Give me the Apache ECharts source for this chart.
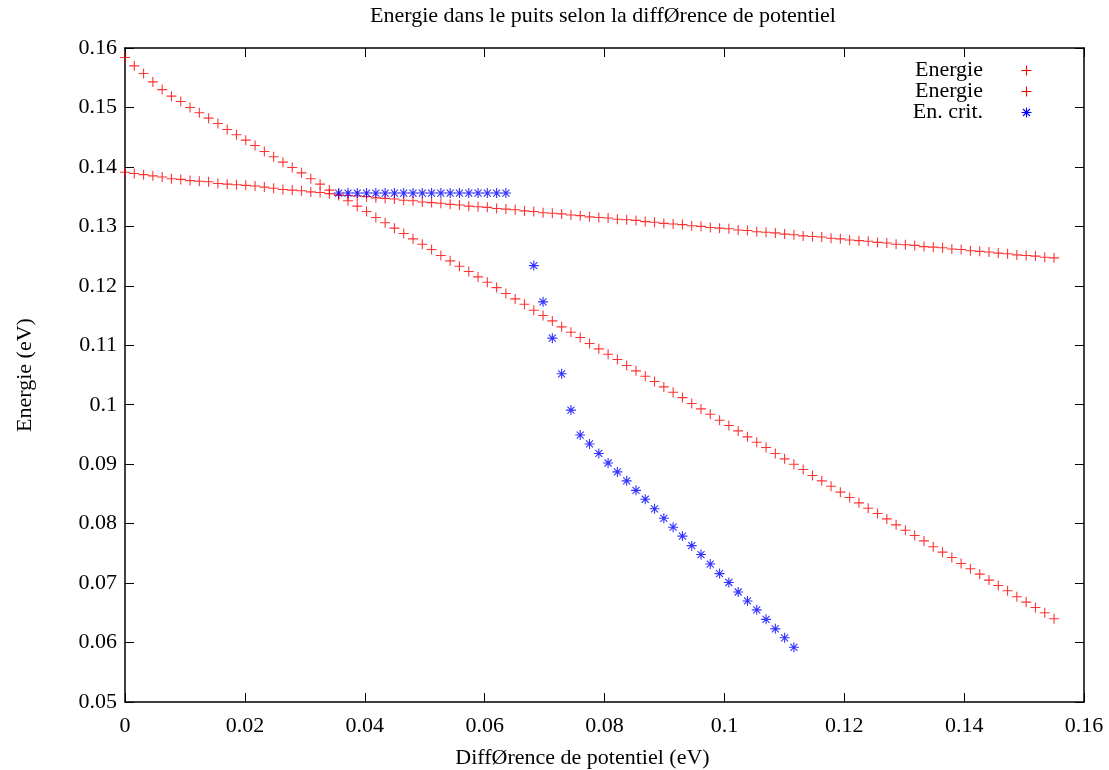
<!DOCTYPE html>
<html>
<head>
<meta charset="utf-8">
<script src="https://cdn.jsdelivr.net/npm/echarts@6/dist/echarts.min.js"></script>
<style>
  html, body { margin: 0; padding: 0; background: #fff; }
  #chart { width: 1109px; height: 770px; }
</style>
</head>
<body>
<div id="chart"></div>
<script>
// Potential difference grid (eV)
const potentialDiff = [
  0, 0.00155, 0.0031, 0.00465, 0.0062, 0.00775, 0.0093, 0.01085, 0.0124, 0.01395,
  0.0155, 0.01705, 0.0186, 0.02015, 0.0217, 0.02325, 0.0248, 0.02635, 0.0279, 0.02945,
  0.031, 0.03255, 0.0341, 0.03565, 0.0372, 0.03875, 0.0403, 0.04185, 0.0434, 0.04495,
  0.0465, 0.04805, 0.0496, 0.05115, 0.0527, 0.05425, 0.0558, 0.05735, 0.0589, 0.06045,
  0.062, 0.06355, 0.0651, 0.06665, 0.0682, 0.06975, 0.0713, 0.07285, 0.0744, 0.07595,
  0.0775, 0.07905, 0.0806, 0.08215, 0.0837, 0.08525, 0.0868, 0.08835, 0.0899, 0.09145,
  0.093, 0.09455, 0.0961, 0.09765, 0.0992, 0.10075, 0.1023, 0.10385, 0.1054, 0.10695,
  0.1085, 0.11005, 0.1116, 0.11315, 0.1147, 0.11625, 0.1178, 0.11935, 0.1209, 0.12245,
  0.124, 0.12555, 0.1271, 0.12865, 0.1302, 0.13175, 0.1333, 0.13485, 0.1364, 0.13795,
  0.1395, 0.14105, 0.1426, 0.14415, 0.1457, 0.14725, 0.1488, 0.15035, 0.1519, 0.15345,
  0.155
];

// Level that falls fastest with the potential difference (eV)
const energieA = [
  0.1584, 0.1570, 0.1557, 0.1543, 0.1530, 0.1519, 0.1510, 0.1500, 0.1491, 0.1482,
  0.1473, 0.1463, 0.1454, 0.1445, 0.1436, 0.1426, 0.1417, 0.1408, 0.1399, 0.1390,
  0.1380, 0.1371, 0.1361, 0.1352, 0.1343, 0.1334, 0.1325, 0.1315, 0.1306, 0.1297,
  0.1288, 0.1279, 0.1270, 0.1261, 0.1251, 0.1242, 0.1233, 0.1224, 0.1215, 0.1206,
  0.1197, 0.1187, 0.1178, 0.1169, 0.1159, 0.1150, 0.1141, 0.1131, 0.1122, 0.1113,
  0.1103, 0.1094, 0.1085, 0.1076, 0.1066, 0.1057, 0.1048, 0.1039, 0.1030, 0.1021,
  0.1012, 0.1002, 0.0993, 0.0984, 0.0974, 0.0965, 0.0956, 0.0946, 0.0937, 0.0928,
  0.0918, 0.0909, 0.0900, 0.0891, 0.0881, 0.0872, 0.0863, 0.0853, 0.0844, 0.0835,
  0.0826, 0.0817, 0.0808, 0.0798, 0.0789, 0.0780, 0.0771, 0.0761, 0.0752, 0.0743,
  0.0733, 0.0724, 0.0715, 0.0705, 0.0696, 0.0687, 0.0677, 0.0668, 0.0659, 0.0650,
  0.0640
];

// Level that decreases slowly (eV)
const energieB = [
  0.1391, 0.1389, 0.1387, 0.1385, 0.1383, 0.1380, 0.1379, 0.1377, 0.1376, 0.1375,
  0.1372, 0.1371, 0.1370, 0.1369, 0.1368, 0.1366, 0.1364, 0.1362, 0.1361, 0.1360,
  0.1358, 0.1357, 0.1355, 0.1354, 0.1352, 0.1351, 0.1350, 0.1348, 0.1347, 0.1346,
  0.1344, 0.1343, 0.1341, 0.1340, 0.1339, 0.1337, 0.1336, 0.1334, 0.1333, 0.1332,
  0.1330, 0.1329, 0.1328, 0.1326, 0.1325, 0.1323, 0.1322, 0.1321, 0.1319, 0.1318,
  0.1316, 0.1315, 0.1314, 0.1312, 0.1311, 0.1310, 0.1308, 0.1307, 0.1305, 0.1304,
  0.1303, 0.1301, 0.1300, 0.1298, 0.1297, 0.1296, 0.1294, 0.1293, 0.1291, 0.1290,
  0.1289, 0.1287, 0.1286, 0.1284, 0.1283, 0.1282, 0.1280, 0.1279, 0.1277, 0.1276,
  0.1275, 0.1273, 0.1272, 0.1270, 0.1269, 0.1268, 0.1266, 0.1265, 0.1264, 0.1262,
  0.1261, 0.1259, 0.1258, 0.1257, 0.1255, 0.1254, 0.1252, 0.1251, 0.1250, 0.1248,
  0.1247
];

// Critical energies: potential difference (eV) and energy (eV)
const critPotential = [
  0.03565, 0.0372, 0.03875, 0.0403, 0.04185, 0.0434, 0.04495, 0.0465, 0.04805, 0.0496,
  0.05115, 0.0527, 0.05425, 0.0558, 0.05735, 0.0589, 0.06045, 0.062, 0.06355,
  0.0682, 0.06975, 0.0713, 0.07285, 0.0744, 0.07595, 0.0775, 0.07905, 0.0806, 0.08215,
  0.0837, 0.08525, 0.0868, 0.08835, 0.0899, 0.09145, 0.093, 0.09455, 0.0961, 0.09765,
  0.0992, 0.10075, 0.1023, 0.10385, 0.1054, 0.10695, 0.1085, 0.11005, 0.1116
];
const critEnergy = [
  0.1356, 0.1356, 0.1356, 0.1356, 0.1356, 0.1356, 0.1356, 0.1356, 0.1356, 0.1356,
  0.1356, 0.1356, 0.1356, 0.1356, 0.1356, 0.1356, 0.1356, 0.1356, 0.1356,
  0.1234, 0.1173, 0.1112, 0.1052, 0.0991, 0.0949, 0.0934, 0.0918, 0.0902, 0.0887,
  0.0872, 0.0856, 0.0841, 0.0825, 0.0809, 0.0794, 0.0779, 0.0763, 0.0748, 0.0732,
  0.0716, 0.0701, 0.0685, 0.0670, 0.0655, 0.0639, 0.0623, 0.0608, 0.0592
];

const seriesNames = ['Energie', 'Energie', 'En. crit.'];
const xTitle = 'DiffØrence de potentiel (eV)';
const yTitle = 'Energie (eV)';
const chartTitle = 'Energie dans le puits selon la diffØrence de potentiel';

const FONT = 'Liberation Serif';
const FS = 22;
const RED = '#ff0000';
const BLUE = '#0000ff';
const PLUS = 'path://M0,5L10,5M5,0L5,10';
const STAR = 'path://M0,5L10,5M5,0L5,10M1.5,1.5L8.5,8.5M8.5,1.5L1.5,8.5';

const pairs = (xs, ys) => xs.map((x, i) => [x, ys[i]]);
const fmt = v => String(parseFloat(v.toFixed(2)));

function axisBase(pos, showLabel, extra) {
  return Object.assign({
    type: 'value',
    position: pos,
    axisLine: { show: true, onZero: false, lineStyle: { color: '#000', width: 1.5 } },
    axisTick: { show: true, inside: true, length: 9, lineStyle: { color: '#000', width: 1 } },
    splitLine: { show: false },
    axisLabel: { show: showLabel, color: '#000', fontFamily: FONT, fontSize: FS, formatter: fmt }
  }, extra);
}

function markerSeries(name, data, symbol, color, size) {
  return {
    name: name,
    type: 'scatter',
    data: data,
    symbol: symbol,
    symbolSize: size,
    itemStyle: { color: 'transparent', borderColor: color, borderWidth: 1.1 },
    emphasis: { disabled: true },
    silent: true,
    xAxisIndex: 0,
    yAxisIndex: 0
  };
}

// Legend box, top right inside the frame: label on the left, marker on the right
function legendEntry(label, y, color, star) {
  const cx = 1026.5, r = 5;
  const els = [
    { type: 'text', x: 983, y: y, style: { text: label, fill: '#000', font: FS + 'px "' + FONT + '"', align: 'right', verticalAlign: 'middle' } },
    { type: 'line', shape: { x1: cx - r, y1: y, x2: cx + r, y2: y }, style: { stroke: color, lineWidth: 1.1 } },
    { type: 'line', shape: { x1: cx, y1: y - r, x2: cx, y2: y + r }, style: { stroke: color, lineWidth: 1.1 } }
  ];
  if (star) {
    const d = 3.5;
    els.push({ type: 'line', shape: { x1: cx - d, y1: y - d, x2: cx + d, y2: y + d }, style: { stroke: color, lineWidth: 1.1 } });
    els.push({ type: 'line', shape: { x1: cx + d, y1: y - d, x2: cx - d, y2: y + d }, style: { stroke: color, lineWidth: 1.1 } });
  }
  return els;
}

const chart = echarts.init(document.getElementById('chart'), null, { renderer: 'canvas' });
chart.setOption({
  animation: false,
  backgroundColor: '#fff',
  grid: { left: 125, right: 25, top: 48, bottom: 68, containLabel: false, outerBoundsMode: 'none' },
  xAxis: [
    axisBase('bottom', true, {
      min: 0, max: 0.16, interval: 0.02,
      name: xTitle, nameLocation: 'middle', nameGap: 45,
      nameTextStyle: { fontFamily: FONT, fontSize: FS, color: '#000', padding: [0, 44, 0, 0] },
      axisLabel: { show: true, color: '#000', fontFamily: FONT, fontSize: FS, margin: 13, formatter: fmt }
    }),
    axisBase('top', false, { min: 0, max: 0.16, interval: 0.02 })
  ],
  yAxis: [
    axisBase('left', true, {
      min: 0.05, max: 0.16, interval: 0.01,
      name: yTitle, nameLocation: 'middle', nameGap: 89, nameRotate: 90,
      nameTextStyle: { fontFamily: FONT, fontSize: FS, color: '#000' },
      axisLabel: { show: true, color: '#000', fontFamily: FONT, fontSize: FS, margin: 8, formatter: fmt }
    }),
    axisBase('right', false, { min: 0.05, max: 0.16, interval: 0.01 })
  ],
  series: [
    markerSeries(seriesNames[0], pairs(potentialDiff, energieA), PLUS, RED, 10),
    markerSeries(seriesNames[1], pairs(potentialDiff, energieB), PLUS, RED, 10),
    markerSeries(seriesNames[2], pairs(critPotential, critEnergy), STAR, BLUE, 10)
  ],
  graphic: [].concat(
    [{ type: 'text', x: 603, y: 16, style: { text: chartTitle, fill: '#000', font: FS + 'px "' + FONT + '"', align: 'center', verticalAlign: 'middle' } }],
    legendEntry(seriesNames[0], 70.5, RED, false),
    legendEntry(seriesNames[1], 91.5, RED, false),
    legendEntry(seriesNames[2], 112.5, BLUE, true)
  )
});
</script>
</body>
</html>
